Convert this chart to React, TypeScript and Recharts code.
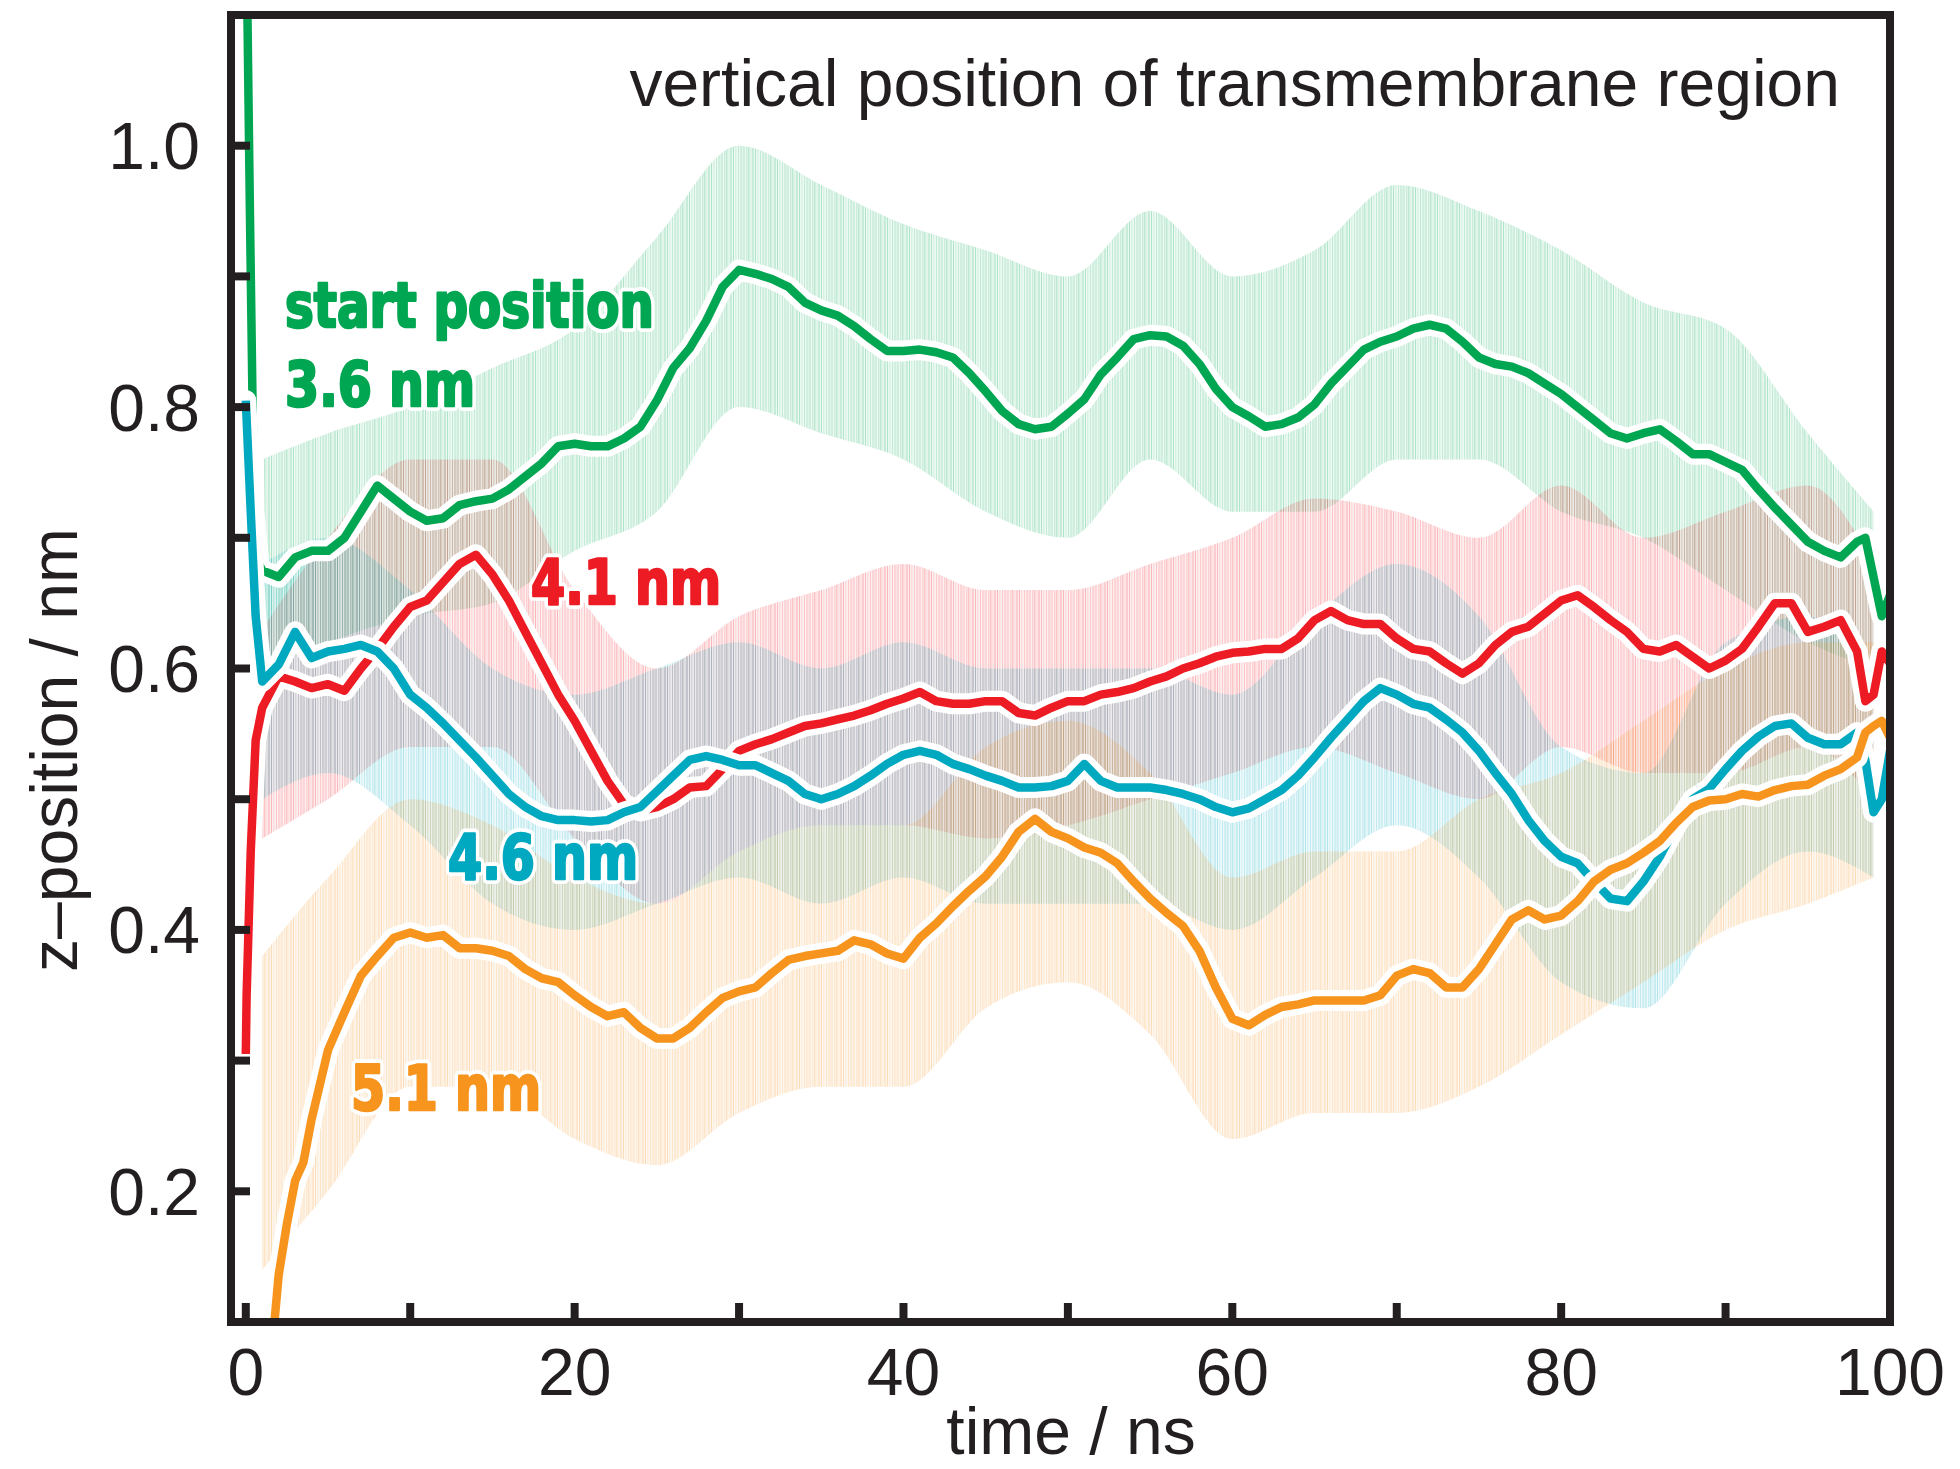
import { Area, ComposedChart, Line, XAxis, YAxis } from "recharts";

// axis ticks
const TIME_TICKS = [0, 10, 20, 30, 40, 50, 60, 70, 80, 90, 100];
const Z_TICKS = [0.2, 0.3, 0.4, 0.5, 0.6, 0.7, 0.8, 0.9, 1.0];

// sample times of the running averages (ns)
const STEP_T = [
  1, 2, 3, 4, 5, 6, 7, 8, 9, 10, 11, 12, 13, 14, 15, 16, 17, 18, 19, 20,
  21, 22, 23, 24, 25, 26, 27, 28, 29, 30, 31, 32, 33, 34, 35, 36, 37, 38, 39, 40,
  41, 42, 43, 44, 45, 46, 47, 48, 49, 50, 51, 52, 53, 54, 55, 56, 57, 58, 59, 60,
  61, 62, 63, 64, 65, 66, 67, 68, 69, 70, 71, 72, 73, 74, 75, 76, 77, 78, 79, 80,
  81, 82, 83, 84, 85, 86, 87, 88, 89, 90, 91, 92, 93, 94, 95, 96, 97, 98,
];
const TAIL_T = [98.5, 99, 99.5, 100];

// start position 3.6 nm (green)
const greenT = [0, 0.25, 0.5, 0.8, ...STEP_T, ...TAIL_T];
const greenZ = [
  1.2, 0.95, 0.72, 0.68,
  0.675, 0.67, 0.685, 0.69, 0.69, 0.7, 0.72, 0.74, 0.73, 0.72,
  0.713, 0.715, 0.725, 0.728, 0.73, 0.737, 0.747, 0.757, 0.77, 0.772,
  0.77, 0.77, 0.776, 0.785, 0.805, 0.83, 0.845, 0.866, 0.892, 0.905,
  0.902, 0.898, 0.892, 0.88, 0.874, 0.87, 0.862, 0.852, 0.843, 0.843,
  0.844, 0.842, 0.838, 0.826, 0.812, 0.797, 0.787, 0.783, 0.785, 0.795,
  0.806, 0.825, 0.838, 0.852, 0.855, 0.854, 0.847, 0.833, 0.814, 0.8,
  0.793, 0.785, 0.787, 0.792, 0.802, 0.818, 0.831, 0.844, 0.85, 0.854,
  0.86, 0.863, 0.86, 0.85, 0.838, 0.833, 0.831, 0.826, 0.818, 0.81,
  0.8, 0.79, 0.78, 0.776, 0.78, 0.783, 0.774, 0.764, 0.764, 0.758,
  0.752, 0.737, 0.723, 0.71, 0.697, 0.69, 0.685, 0.697,
  0.7, 0.67, 0.64, 0.656,
];

// 4.1 nm (red)
const redT = [0, 0.05, 0.3, 0.6, ...STEP_T, ...TAIL_T];
const redZ = [
  0.305, 0.35, 0.46, 0.545,
  0.57, 0.594, 0.59, 0.585, 0.588, 0.583, 0.6, 0.615, 0.632, 0.647,
  0.652, 0.666, 0.68, 0.687, 0.672, 0.652, 0.628, 0.604, 0.58, 0.56,
  0.537, 0.514, 0.496, 0.491, 0.494, 0.5, 0.509, 0.51, 0.523, 0.537,
  0.542, 0.546, 0.551, 0.556, 0.558, 0.561, 0.564, 0.568, 0.573, 0.577,
  0.582, 0.575, 0.573, 0.573, 0.575, 0.575, 0.566, 0.564, 0.57, 0.575,
  0.575, 0.58, 0.582, 0.585, 0.59, 0.594, 0.6, 0.604, 0.609, 0.612,
  0.613, 0.615, 0.615, 0.623, 0.637, 0.644, 0.637, 0.634, 0.634, 0.623,
  0.615, 0.613, 0.604, 0.596, 0.604, 0.618, 0.628, 0.632, 0.642, 0.652,
  0.656, 0.647, 0.637, 0.628, 0.615, 0.613, 0.618, 0.609, 0.6, 0.606,
  0.615, 0.632, 0.65, 0.65, 0.628, 0.632, 0.637, 0.613,
  0.575, 0.58, 0.613, 0.604,
];

// 4.6 nm (teal)
const tealT = [0, 0.3, 0.6, ...STEP_T, ...TAIL_T];
const tealZ = [
  0.805, 0.72, 0.64,
  0.59, 0.603, 0.628, 0.608, 0.613, 0.615, 0.618, 0.613, 0.6, 0.58,
  0.57, 0.558, 0.545, 0.532, 0.518, 0.504, 0.494, 0.487, 0.484, 0.484,
  0.483, 0.484, 0.49, 0.494, 0.506, 0.518, 0.53, 0.533, 0.53, 0.526,
  0.526, 0.52, 0.514, 0.504, 0.5, 0.504, 0.51, 0.518, 0.527, 0.534,
  0.537, 0.534, 0.527, 0.523, 0.518, 0.514, 0.509, 0.509, 0.51, 0.514,
  0.527, 0.514, 0.509, 0.509, 0.509, 0.507, 0.504, 0.5, 0.494, 0.49,
  0.493, 0.5, 0.507, 0.518, 0.532, 0.547, 0.561, 0.575, 0.585, 0.58,
  0.573, 0.57, 0.561, 0.551, 0.537, 0.52, 0.504, 0.484, 0.468, 0.456,
  0.451, 0.437, 0.424, 0.422, 0.437, 0.456, 0.48, 0.5, 0.508, 0.523,
  0.537, 0.548, 0.556, 0.558, 0.547, 0.542, 0.542, 0.551,
  0.53, 0.49, 0.5, 0.537,
];

// 5.1 nm (orange)
const orangeT = [1.6, 2, 2.5, 3, 3.5, 4, ...STEP_T.slice(4), ...TAIL_T];
const orangeZ = [
  0.08, 0.136, 0.175, 0.208, 0.222, 0.255,
  0.308, 0.337, 0.365, 0.38, 0.394, 0.398,
  0.394, 0.396, 0.386, 0.386, 0.384, 0.38, 0.37, 0.363, 0.36, 0.35,
  0.341, 0.334, 0.337, 0.325, 0.317, 0.317, 0.325, 0.337, 0.348, 0.353,
  0.356, 0.367, 0.377, 0.38, 0.382, 0.384, 0.392, 0.389, 0.382, 0.378,
  0.394, 0.405, 0.418, 0.43, 0.441, 0.456, 0.475, 0.485, 0.475, 0.47,
  0.463, 0.459, 0.451, 0.437, 0.424, 0.413, 0.403, 0.384, 0.356, 0.332,
  0.327, 0.335, 0.341, 0.343, 0.346, 0.346, 0.346, 0.346, 0.35, 0.365,
  0.37, 0.367, 0.356, 0.356, 0.37, 0.389, 0.408, 0.415, 0.408, 0.411,
  0.422, 0.437, 0.446, 0.451, 0.459, 0.468, 0.482, 0.494, 0.499, 0.5,
  0.504, 0.502, 0.507, 0.51, 0.511, 0.518, 0.523, 0.532,
  0.551, 0.556, 0.56, 0.547,
];

// spread of the raw (unsmoothed) traces, read as low / high envelopes
const NOISE_T = [1, 5, 10, 15, 20, 25, 30, 35, 40, 45, 50, 55, 60, 65, 70, 75, 80, 85, 90, 95, 99];
const greenLo = [0.6, 0.62, 0.64, 0.65, 0.69, 0.72, 0.8, 0.78, 0.76, 0.72, 0.7, 0.76, 0.72, 0.72, 0.76, 0.76, 0.72, 0.7, 0.66, 0.62, 0.6];
const greenHi = [0.76, 0.78, 0.8, 0.83, 0.86, 0.93, 1.0, 0.97, 0.94, 0.92, 0.9, 0.95, 0.9, 0.92, 0.97, 0.95, 0.92, 0.88, 0.86, 0.78, 0.72];
const redLo = [0.47, 0.5, 0.54, 0.54, 0.47, 0.42, 0.46, 0.48, 0.48, 0.47, 0.48, 0.5, 0.52, 0.54, 0.52, 0.5, 0.54, 0.52, 0.52, 0.54, 0.5];
const redHi = [0.63, 0.7, 0.76, 0.76, 0.66, 0.6, 0.64, 0.66, 0.68, 0.66, 0.66, 0.68, 0.7, 0.73, 0.72, 0.7, 0.74, 0.7, 0.72, 0.74, 0.68];
const tealLo = [0.5, 0.52, 0.48, 0.42, 0.4, 0.42, 0.44, 0.42, 0.44, 0.42, 0.42, 0.42, 0.4, 0.44, 0.48, 0.44, 0.36, 0.34, 0.42, 0.46, 0.44];
const tealHi = [0.68, 0.7, 0.66, 0.6, 0.58, 0.6, 0.62, 0.6, 0.62, 0.6, 0.6, 0.6, 0.58, 0.64, 0.68, 0.64, 0.54, 0.52, 0.62, 0.64, 0.6];
const orangeLo = [0.14, 0.2, 0.28, 0.28, 0.24, 0.22, 0.26, 0.28, 0.28, 0.34, 0.36, 0.32, 0.24, 0.26, 0.26, 0.28, 0.32, 0.36, 0.4, 0.42, 0.44];
const orangeHi = [0.38, 0.44, 0.5, 0.48, 0.44, 0.42, 0.46, 0.48, 0.48, 0.54, 0.56, 0.52, 0.44, 0.46, 0.46, 0.5, 0.52, 0.56, 0.6, 0.62, 0.62];

const GREEN = "#00a651";
const RED = "#ed1c24";
const TEAL = "#00a8c0";
const ORANGE = "#f7941d";
const INK = "#231f20";
const FONT = "'Liberation Sans', Arial, Helvetica, sans-serif";
const BOLD_FONT = "'Liberation Sans Narrow', 'DejaVu Sans Condensed', Arial, sans-serif";

const toPoints = (ts: number[], zs: number[]) => ts.map((t, i) => ({ t, z: zs[i] }));
const toBand = (ts: number[], lo: number[], hi: number[]) =>
  ts.map((t, i) => ({ t, band: [lo[i], hi[i]] }));

const series = [
  { name: "green", color: GREEN, pts: toPoints(greenT, greenZ), band: toBand(NOISE_T, greenLo, greenHi) },
  { name: "red", color: RED, pts: toPoints(redT, redZ), band: toBand(NOISE_T, redLo, redHi) },
  { name: "teal", color: TEAL, pts: toPoints(tealT, tealZ), band: toBand(NOISE_T, tealLo, tealHi) },
  { name: "orange", color: ORANGE, pts: toPoints(orangeT, orangeZ), band: toBand(NOISE_T, orangeLo, orangeHi) },
];

const labels = [
  { text: "start position", x: 285, y: 327, w: 369, color: GREEN },
  { text: "3.6 nm", x: 285, y: 406, w: 190, color: GREEN },
  { text: "4.1 nm", x: 531, y: 604, w: 190, color: RED },
  { text: "4.6 nm", x: 448, y: 879, w: 190, color: TEAL },
  { text: "5.1 nm", x: 351, y: 1110, w: 190, color: ORANGE },
];

// stripe texture for the raw-trace bands (x offset, width, opacity)
const STRIPES = [
  [0, 1.5, 0.2], [2.5, 1, 0.1], [4, 2, 0.16], [7, 1, 0.26], [9, 1.5, 0.09], [12, 1, 0.18],
  [14, 2.5, 0.12], [17.5, 1, 0.24], [20, 1.5, 0.14],
];

const FRAME = 8;
const tickStyle = { fontSize: 66, fill: INK, fontFamily: FONT, stroke: "none" };
const frameLine = { stroke: INK, strokeWidth: FRAME, strokeLinecap: "square" as const };
const frameTick = { stroke: INK, strokeWidth: FRAME };

export default function App() {
  return (
    <div style={{ position: "absolute", left: 0, top: 0, width: 1960, height: 1469, background: "#fff" }}>
      <svg width={0} height={0} style={{ position: "absolute" }}>
        <defs>
          {series.map((s) => (
            <pattern key={s.name} id={`noise-${s.name}`} width={22} height={40} patternUnits="userSpaceOnUse">
              <rect x={0} y={0} width={22} height={40} fill={s.color} fillOpacity={0.07} />
              {STRIPES.map(([x, w, o], i) => (
                <rect key={i} x={x} y={0} width={w} height={40} fill={s.color} fillOpacity={o} />
              ))}
            </pattern>
          ))}
        </defs>
      </svg>
      <ComposedChart width={1960} height={1469} margin={{ top: 14, right: 0, bottom: 0, left: 0 }}>
        <XAxis
          xAxisId="b"
          dataKey="t"
          type="number"
          domain={[-0.9, 100]}
          allowDataOverflow
          ticks={TIME_TICKS}
          interval={0}
          height={147}
          tickSize={-19}
          tickMargin={45}
          stroke={INK}
          tick={tickStyle}
          tickFormatter={(v: number) => (v % 20 === 0 ? String(v) : "")}
          axisLine={frameLine}
          tickLine={frameTick}
        />
        <XAxis
          xAxisId="t"
          orientation="top"
          dataKey="t"
          type="number"
          domain={[-0.9, 100]}
          allowDataOverflow
          ticks={TIME_TICKS}
          height={1}
          stroke={INK}
          tick={false}
          tickLine={false}
          axisLine={frameLine}
        />
        <YAxis
          yAxisId="l"
          type="number"
          domain={[0.1, 1.1]}
          allowDataOverflow
          ticks={Z_TICKS}
          interval={0}
          width={231}
          tickSize={-19}
          tickMargin={50}
          stroke={INK}
          tick={tickStyle}
          tickFormatter={(v: number) => (Math.round(v * 10) % 2 === 0 ? v.toFixed(1) : "")}
          axisLine={frameLine}
          tickLine={frameTick}
        />
        <YAxis
          yAxisId="r"
          orientation="right"
          type="number"
          domain={[0.1, 1.1]}
          allowDataOverflow
          ticks={Z_TICKS}
          interval={0}
          width={70}
          tickSize={-19}
          stroke={INK}
          tick={false}
          axisLine={frameLine}
          tickLine={frameTick}
        />

        {series.map((s) => (
          <Area
            key={`band-${s.name}`}
            xAxisId="b"
            yAxisId="l"
            data={s.band}
            dataKey="band"
            type="monotone"
            stroke="none"
            fill={`url(#noise-${s.name})`}
            fillOpacity={1}
            isAnimationActive={false}
            dot={false}
            activeDot={false}
          />
        ))}

        {series.flatMap((s) => [
          <Line
            key={`halo-${s.name}`}
            xAxisId="b"
            yAxisId="l"
            data={s.pts}
            dataKey="z"
            type="linear"
            stroke="#ffffff"
            strokeWidth={21}
            strokeLinejoin="round"
            strokeLinecap="round"
            dot={false}
            activeDot={false}
            isAnimationActive={false}
          />,
          <Line
            key={`line-${s.name}`}
            xAxisId="b"
            yAxisId="l"
            data={s.pts}
            dataKey="z"
            type="linear"
            stroke={s.color}
            strokeWidth={8.5}
            strokeLinejoin="round"
            dot={false}
            activeDot={false}
            isAnimationActive={false}
          />,
        ])}
      </ComposedChart>

      <svg
        width={1960}
        height={1469}
        style={{ position: "absolute", left: 0, top: 0, pointerEvents: "none" }}
      >
        <text x={1840} y={106} textAnchor="end" fontSize={66} fill={INK} fontFamily={FONT}>
          vertical position of transmembrane region
        </text>
        <text x={1071} y={1454} textAnchor="middle" fontSize={66} fill={INK} fontFamily={FONT}>
          time / ns
        </text>
        <text
          transform="translate(77,750) rotate(-90)"
          textAnchor="middle"
          fontSize={66}
          fill={INK}
          fontFamily={FONT}
        >
          z–position / nm
        </text>
        {labels.map((l) => (
          <g key={l.text}>
            <text
              x={l.x}
              y={l.y}
              fontSize={62}
              fontWeight={700}
              fontFamily={BOLD_FONT}
              fill="#ffffff"
              stroke="#ffffff"
              strokeWidth={10}
              strokeLinejoin="round"
              textLength={l.w}
              lengthAdjust="spacingAndGlyphs"
            >
              {l.text}
            </text>
            <text
              x={l.x}
              y={l.y}
              fontSize={62}
              fontWeight={700}
              fontFamily={BOLD_FONT}
              fill={l.color}
              stroke={l.color}
              strokeWidth={2.5}
              strokeLinejoin="round"
              textLength={l.w}
              lengthAdjust="spacingAndGlyphs"
            >
              {l.text}
            </text>
          </g>
        ))}
      </svg>
    </div>
  );
}
